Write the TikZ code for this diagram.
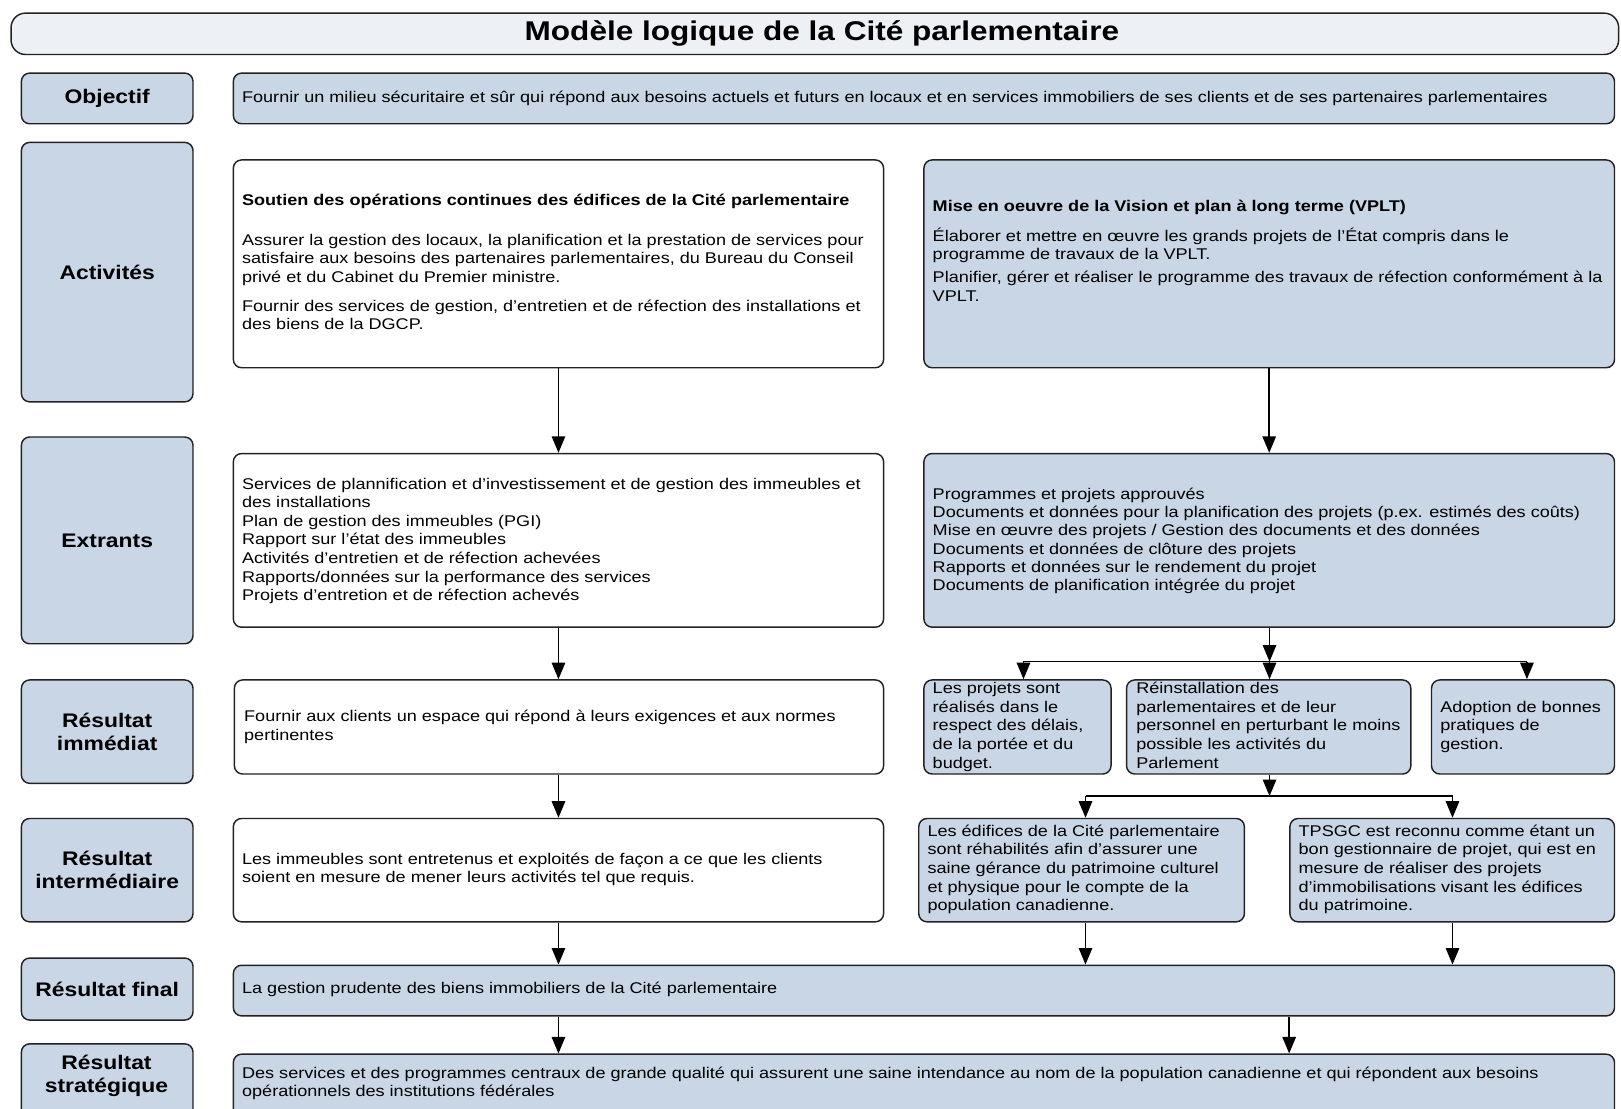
\documentclass[tikz,border=0pt]{standalone}
\usepackage{fontspec}
\setmainfont{Liberation Sans}[FakeStretch=1.165]
\usetikzlibrary{arrows.meta}
\definecolor{boxblue}{HTML}{C8D6E5}
\definecolor{titlegray}{HTML}{EDF0F5}
\definecolor{edgec}{HTML}{222222}
\newcommand{\tlines}[1]{\begin{tabular}[t]{@{}l@{}}#1\end{tabular}}
\begin{document}
\begin{tikzpicture}[x=1pt,y=-1pt,
  box/.style={draw=edgec,line width=1.4pt,rounded corners=8pt,anchor=north west,inner sep=0pt},
  bluebox/.style={box,fill=boxblue},
  whitebox/.style={box,fill=white},
  lbl/.style={font=\fontsize{19}{22}\selectfont\bfseries,align=center,inner sep=0pt},
  txt/.style={font=\fontsize{15}{18}\selectfont,anchor=base west,inner sep=0pt},
  arr/.style={line width=1.5pt,-{Triangle[length=16pt,width=13pt]}},
  ln/.style={line width=1.3pt}]
\useasboundingbox (0,0) rectangle (1568,1072);
% title
\node[box,fill=titlegray,rounded corners=14pt,minimum width=1555pt,minimum height=40pt] (title) at (10,12) {};
\node[font=\fontsize{26.2}{30}\selectfont\bfseries] (ttl) at (795,32) {Modèle logique de la Cité parlementaire};
% left labels
\node[bluebox,minimum width=166pt,minimum height=49pt] (objL) at (20,70) {};
\node[bluebox,minimum width=166pt,minimum height=251pt] (actL) at (20,137) {};
\node[bluebox,minimum width=166pt,minimum height=200pt] (extL) at (20,422) {};
\node[bluebox,minimum width=166pt,minimum height=100pt] (immL) at (20,657) {};
\node[bluebox,minimum width=166pt,minimum height=100pt] (intL) at (20,791) {};
\node[bluebox,minimum width=166pt,minimum height=60pt] (finL) at (20,926) {};
\node[bluebox,minimum width=166pt,minimum height=81pt] (strL) at (20,1009) {};
\node[lbl] (tobjL) at (objL) {Objectif};
\node[lbl] (tactL) at (actL) {Activités};
\node[lbl] (textL) at (extL) {Extrants};
\node[lbl] (timmL) at (immL) {Résultat\\immédiat};
\node[lbl] (tintL) at (intL) {Résultat\\intermédiaire};
\node[lbl] (tfinL) at (finL) {Résultat final};
\node[lbl] (tstrL) at (103,1041) {Résultat\\stratégique};
% content boxes
\node[bluebox,minimum width=1336pt,minimum height=49pt] (objC) at (225,70) {};
\node[whitebox,minimum width=629pt,minimum height=201pt] (actA) at (225,154) {};
\node[bluebox,minimum width=668pt,minimum height=201pt] (actB) at (893,154) {};
\node[whitebox,minimum width=629pt,minimum height=168pt] (extA) at (225,438) {};
\node[bluebox,minimum width=668pt,minimum height=168pt] (extB) at (893,438) {};
\node[whitebox,minimum width=628pt,minimum height=91pt] (immA) at (226,657) {};
\node[bluebox,minimum width=181pt,minimum height=91pt] (immB1) at (893,657) {};
\node[bluebox,minimum width=275pt,minimum height=91pt] (immB2) at (1089,657) {};
\node[bluebox,minimum width=177pt,minimum height=91pt] (immB3) at (1384,657) {};
\node[whitebox,minimum width=629pt,minimum height=100pt] (intA) at (225,791) {};
\node[bluebox,minimum width=315pt,minimum height=100pt] (intB1) at (888,791) {};
\node[bluebox,minimum width=314pt,minimum height=100pt] (intB2) at (1247,791) {};
\node[bluebox,minimum width=1336pt,minimum height=49pt] (finC) at (225,933) {};
\node[bluebox,minimum width=1336pt,minimum height=71pt] (strC) at (225,1019) {};
% texts
\node[txt] (tobjC) at (234,99) {Fournir un milieu sécuritaire et sûr qui répond aux besoins actuels et futurs en locaux et en services immobiliers de ses clients et de ses partenaires parlementaires};
\node[txt] (tactA) at (234,199) {\tlines{\textbf{Soutien des opérations continues des édifices de la Cité parlementaire}\\[20pt]
Assurer la gestion des locaux, la planification et la prestation de services pour\\
satisfaire aux besoins des partenaires parlementaires, du Bureau du Conseil\\
privé et du Cabinet du Premier ministre.\\[10pt]
Fournir des services de gestion, d’entretien et de réfection des installations et\\
des biens de la DGCP.}};
\node[txt] (tactB) at (902,205) {\tlines{\textbf{Mise en oeuvre de la Vision et plan à long terme (VPLT)}\\[10pt]
Élaborer et mettre en œuvre les grands projets de l’État compris dans le\\
programme de travaux de la VPLT.\\[4pt]
Planifier, gérer et réaliser le programme des travaux de réfection conformément à la\\
VPLT.}};
\node[txt] (textA) at (234,473) {\tlines{Services de plannification et d’investissement et de gestion des immeubles et\\
des installations\\
Plan de gestion des immeubles (PGI)\\
Rapport sur l’état des immeubles\\
Activités d’entretien et de réfection achevées\\
Rapports/données sur la performance des services\\
Projets d’entretion et de réfection achevés}};
\node[txt,font=\fontsize{15}{17.7}\selectfont] (textB) at (902,483) {\tlines{Programmes et projets approuvés\\
Documents et données pour la planification des projets (p.ex. estimés des coûts)\\
Mise en œuvre des projets / Gestion des documents et des données\\
Documents et données de clôture des projets\\
Rapports et données sur le rendement du projet\\
Documents de planification intégrée du projet}};
\node[txt] (timmA) at (236,698) {\tlines{Fournir aux clients un espace qui répond à leurs exigences et aux normes\\
pertinentes}};
\node[txt] (timmB1) at (902,671) {\tlines{Les projets sont\\réalisés dans le\\respect des délais,\\de la portée et du\\budget.}};
\node[txt] (timmB2) at (1099,671) {\tlines{Réinstallation des\\parlementaires et de leur\\personnel en perturbant le moins\\possible les activités du\\Parlement}};
\node[txt] (timmB3) at (1393,689) {\tlines{Adoption de bonnes\\pratiques de\\gestion.}};
\node[txt] (tintA) at (234,836) {\tlines{Les immeubles sont entretenus et exploités de façon a ce que les clients\\
soient en mesure de mener leurs activités tel que requis.}};
\node[txt] (tintB1) at (897,809) {\tlines{Les édifices de la Cité parlementaire\\sont réhabilités afin d'assurer une\\saine gérance du patrimoine culturel\\et physique pour le compte de la\\population canadienne.}};
\node[txt] (tintB2) at (1256,809) {\tlines{TPSGC est reconnu comme étant un\\bon gestionnaire de projet, qui est en\\mesure de réaliser des projets\\d’immobilisations visant les édifices\\du patrimoine.}};
\node[txt] (tfinC) at (234,961) {La gestion prudente des biens immobiliers de la Cité parlementaire};
\node[txt] (tstrC) at (234,1043) {\tlines{Des services et des programmes centraux de grande qualité qui assurent une saine intendance au nom de la population canadienne et qui répondent aux besoins\\
opérationnels des institutions fédérales}};
% left column arrows
\draw[arr] (actA.south) -- (extA.north);
\draw[arr] (extA.south) -- (extA.south |- immA.north);
\draw[arr] (extA.south |- immA.south) -- (intA.north);
\draw[arr] (intA.south) -- (intA.south |- finC.north);
\draw[arr] (intA.south |- finC.south) -- (intA.south |- strC.north);
\draw[arr] (intB2.west |- finC.south) -- (intB2.west |- strC.north);
% right column
\draw[arr] (actB.south) -- (extB.north);
\coordinate (j1) at (1228,640);
\coordinate (b1) at (990,640);
\coordinate (b3) at (1477,640);
\draw[arr] (j1 |- extB.south) -- (j1);
\draw[ln] (b1) -- (b3);
\draw[arr] (b1) -- (b1 |- immB1.north);
\draw[arr] (j1) -- (j1 |- immB2.north);
\draw[arr] (b3) -- (b3 |- immB3.north);
\coordinate (j2) at (1228,770);
\coordinate (c1) at (1050,770);
\coordinate (c2) at (1405,770);
\draw[arr] (j2 |- immB2.south) -- (j2);
\draw[ln] (c1) -- (c2);
\draw[arr] (c1) -- (c1 |- intB1.north);
\draw[arr] (c2) -- (c2 |- intB2.north);
\draw[arr] (c1 |- intB1.south) -- (c1 |- finC.north);
\draw[arr] (c2 |- intB2.south) -- (c2 |- finC.north);
\end{tikzpicture}
\end{document}
